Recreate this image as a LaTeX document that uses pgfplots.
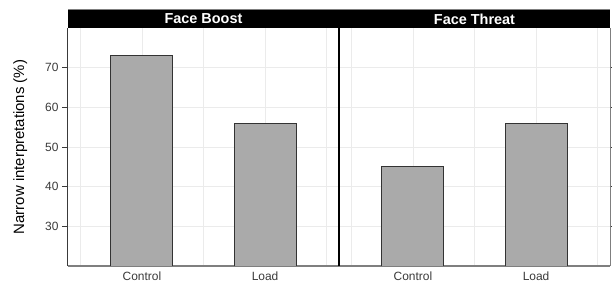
\documentclass[border=0pt]{standalone}
\usepackage{pgfplots}
\pgfplotsset{compat=1.18}
\usepackage{fontspec}
\setmainfont{Liberation Sans}
\definecolor{gridgray}{HTML}{EBEBEB}
\definecolor{gray30}{HTML}{3A3A3A}
\definecolor{barfill}{HTML}{AAAAAA}
\definecolor{barline}{HTML}{333333}
\definecolor{axgray}{HTML}{7F7F7F}
\pgfplotsset{
  panel/.style={
    scale only axis, width=271bp, height=238bp,
    ymin=20, ymax=80, xmin=0.4, xmax=2.6,
    ytick={30,40,50,60,70},
    xtick={1,2}, xticklabels={Control,Load},
    minor xtick={0.5,1.5,2.5},
    grid=both,
    major grid style={draw=gridgray, line width=0.8bp},
    minor grid style={draw=gridgray, line width=0.8bp},
    major tick length=6bp,
    tick align=outside,
    ytick style={draw=gray30, line width=0.8bp},
    xtick style={draw=none},
    axis x line*=bottom,
    x axis line style={draw=axgray, line width=1.4bp},
    ticklabel style={font=\fontsize{12}{14}\selectfont, text=gray30},
    xticklabel style={yshift=3.5bp},
    ybar, bar width=62bp,
    /pgf/number format/assume math mode=true,
  },
}
\begin{document}
\begin{tikzpicture}[x=1bp,y=1bp]
\begin{axis}[panel, name=left, at={(0,0)}, anchor=south west,
  axis y line*=left,
  y axis line style={draw=gray30, line width=1bp},
  ylabel={Narrow interpretations (\%)},
  ylabel style={font=\fontsize{15}{17}\selectfont, text=black},
  ylabel shift=11bp,
  ]
\addplot[fill=barfill, draw=barline, line width=0.9bp] coordinates {(1,73) (2,56)};
\end{axis}
\begin{axis}[panel, name=right, at={(271bp,0)}, anchor=south west,
  axis y line*=right,
  y axis line style={draw=axgray, line width=1bp},
  yticklabels={},
  ]
\addplot[fill=barfill, draw=barline, line width=0.9bp] coordinates {(1,45) (2,56)};
\end{axis}
\draw[black, line width=1.3bp] (right.south west) -- (right.north west);
\fill[black] (left.north west) rectangle ([yshift=18bp]right.north east);
\draw[axgray, line width=0.8bp] ([yshift=18.4bp]left.north west) -- ([yshift=18.4bp]right.north east);
\node[text=white, font=\bfseries\fontsize{14.5}{16}\selectfont] at ([yshift=9bp]left.north) {Face Boost};
\node[text=white, font=\bfseries\fontsize{14.5}{16}\selectfont] at ([yshift=9bp]right.north) {Face Threat};
\pgfresetboundingbox
\path[use as bounding box] (-68bp,-17bp) rectangle (544bp,266bp);
\end{tikzpicture}
\end{document}
